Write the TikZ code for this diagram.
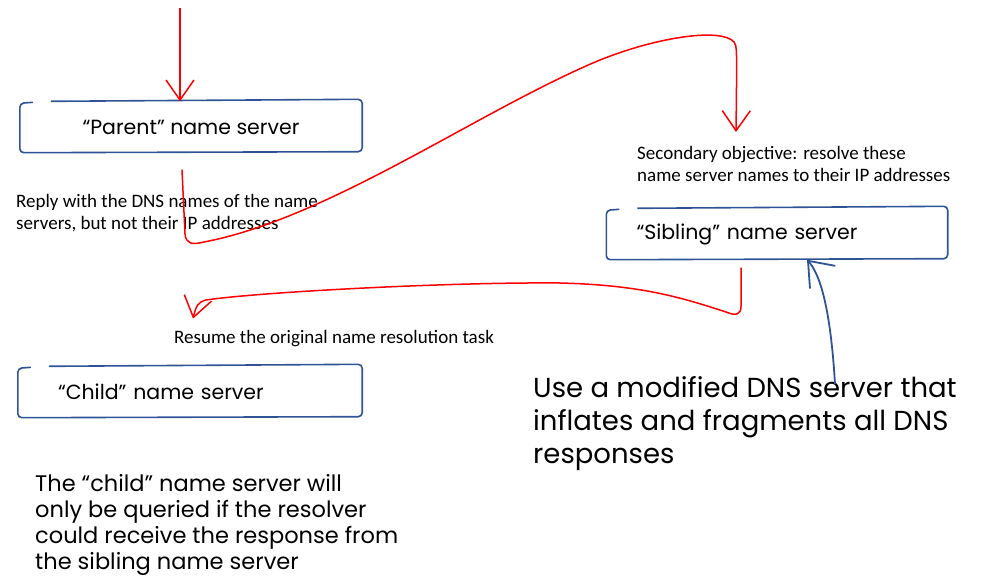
\documentclass[tikz,border=0pt]{standalone}
\usepackage{fontspec}
\setmainfont{Carlito}
\newfontfamily\handfont{Poppins}
\usetikzlibrary{arrows.meta}
\definecolor{penred}{RGB}{255,0,0}
\definecolor{penblue}{RGB}{47,84,150}

\begin{document}
\begin{tikzpicture}[
    x=1pt, y=-1pt,
    srv/.style      = {minimum height=51pt, inner ysep=0pt,
                       font=\handfont\fontsize{20.5}{22}\selectfont},
    note/.style     = {font=\fontsize{19}{22}\selectfont, align=left, inner sep=0pt},
    scrawl/.style   = {font=\handfont\fontsize{27.5}{33}\selectfont, align=left, inner sep=0pt},
    boxline/.style  = {draw=penblue, line width=1.6pt, rounded corners=4pt},
    redarrow/.style = {draw=penred, line width=1.5pt,
                       -{Straight Barb[length=20pt, width=28pt]}},
    bluearrow/.style= {draw=penblue, line width=1.8pt,
                       -{Straight Barb[length=22pt, width=34pt]}},
  ]
  \useasboundingbox (0,0) rectangle (987,586);
  % name servers
  \node[srv, minimum width=342pt] (parent) at (191,127) {“Parent” name server};
  \node[srv, text width=281pt, inner xsep=30pt, align=left] (sibling) at (777,234) {“Sibling” name server};
  \node[srv, text width=264pt, inner xsep=40pt, align=left] (child) at (190,392) {“Child” name server};
  % hand drawn outlines
  \foreach \b in {parent,sibling,child}{
    \draw[boxline] ([xshift=13pt,yshift=-1pt]\b.north west) -- ([yshift=-2pt]\b.north west)
      -- (\b.south west) -- ([yshift=1pt]\b.south east) -- ([yshift=2pt]\b.north east)
      -- ([xshift=31pt]\b.north west);
  }
  % printed notes
  \node[note, anchor=north west] (reply) at (16,194)
    {Reply with the DNS names of the name\\servers, but not their IP addresses};
  \node[note, anchor=north west] (secondary) at (637,146)
    {Secondary objective: resolve these\\name server names to their IP addresses};
  \node[note, anchor=base west] (resume) at (174,343) {Resume the original name resolution task};
  % handwritten notes
  \node[scrawl, anchor=north west] (dnsnote) at (533,376)
    {Use a modified DNS server that\\inflates and fragments all DNS\\responses};
  \node[scrawl, font=\handfont\fontsize{22.5}{26}\selectfont, anchor=north west] (childnote) at (35,474)
    {The “child” name server will\\only be queried if the resolver\\could receive the response from\\the sibling name server};
  % red flow
  \coordinate (entry) at (180,8);
  \draw[redarrow] (entry) -- (entry |- parent.north);
  \draw[redarrow] ([xshift=-9pt,yshift=-17pt]parent.south) -- (185,234)
    .. controls (186,244) and (192,245) .. (204,242)
    .. controls (330,218) and (480,110) .. (600,60)
    .. controls (660,36) and (722,28) .. (734,42)
    .. controls (737,46) .. ([xshift=99pt,yshift=14pt]secondary.north west);
  \draw[redarrow] ([xshift=-36pt,yshift=-8pt]sibling.south) -- (741,306)
    .. controls (741,315) and (736,316) .. (726,312)
    .. controls (680,297) and (640,285) .. (560,283)
    .. controls (450,282) and (260,292) .. (206,300)
    .. controls (198,302) and (196,306) .. ([xshift=19pt,yshift=11pt]resume.north west);
  % blue pointer
  \draw[bluearrow] ([xshift=302pt,yshift=-8pt]dnsnote.north west)
    .. controls (830,300) and (818,272) .. ([xshift=30pt]sibling.south);
\end{tikzpicture}
\end{document}
